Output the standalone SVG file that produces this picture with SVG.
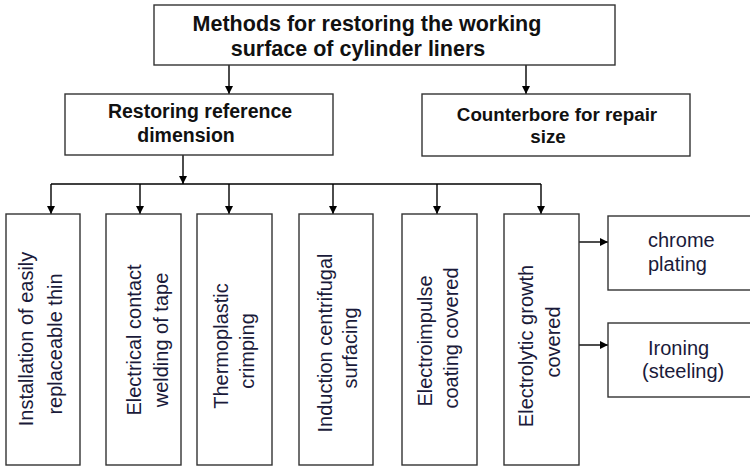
<svg xmlns="http://www.w3.org/2000/svg" width="750" height="467" viewBox="0 0 750 467">
<defs>
<style>
.box{fill:#fff;stroke:#333;stroke-width:1.4}
.ln{fill:none;stroke:#000;stroke-width:1.4}
.tb{font-family:"Liberation Sans",Arial,sans-serif;font-weight:bold;fill:#111;}
.tr{font-family:"Liberation Sans",Arial,sans-serif;font-size:20px;fill:#1a1a3a;}
</style>
<marker id="ah" viewBox="0 0 10 10" refX="10" refY="5" markerWidth="8" markerHeight="8" markerUnits="userSpaceOnUse" orient="auto">
<path d="M0,0 L10,5 L0,10 z" fill="#000"/>
</marker>
</defs>
<rect width="750" height="467" fill="#fff"/>

<g id="connectors">
<line class="ln" x1="229" y1="65" x2="229" y2="94" marker-end="url(#ah)"/>
<line class="ln" x1="526" y1="65" x2="526" y2="94" marker-end="url(#ah)"/>
<line class="ln" x1="183" y1="155" x2="183" y2="184" marker-end="url(#ah)"/>
<line class="ln" x1="51" y1="184" x2="541" y2="184"/>
<line class="ln" x1="51" y1="184" x2="51" y2="214" marker-end="url(#ah)"/>
<line class="ln" x1="140" y1="184" x2="140" y2="214" marker-end="url(#ah)"/>
<line class="ln" x1="229" y1="184" x2="229" y2="214" marker-end="url(#ah)"/>
<line class="ln" x1="333" y1="184" x2="333" y2="214" marker-end="url(#ah)"/>
<line class="ln" x1="437" y1="184" x2="437" y2="214" marker-end="url(#ah)"/>
<line class="ln" x1="541" y1="184" x2="541" y2="214" marker-end="url(#ah)"/>
<line class="ln" x1="579" y1="242" x2="608" y2="242" marker-end="url(#ah)"/>
<line class="ln" x1="579" y1="345" x2="608" y2="345" marker-end="url(#ah)"/>
</g>

<g id="root">
<rect class="box" x="154" y="5" width="461" height="60"/>
<text class="tb" font-size="21.5" text-anchor="middle" x="367" y="31">Methods for restoring the working</text>
<text class="tb" font-size="21.5" text-anchor="middle" x="358" y="56">surface of cylinder liners</text>
</g>

<g id="restoring">
<rect class="box" x="65" y="94" width="268" height="61"/>
<text class="tb" font-size="19.5" text-anchor="middle" x="200" y="118">Restoring reference</text>
<text class="tb" font-size="19.5" text-anchor="middle" x="186" y="142">dimension</text>
</g>

<g id="counterbore">
<rect class="box" x="422" y="94" width="268" height="62"/>
<text class="tb" font-size="18.8" text-anchor="middle" x="557" y="121">Counterbore for repair</text>
<text class="tb" font-size="18.8" text-anchor="middle" x="548" y="143">size</text>
</g>

<g id="installation">
<rect class="box" x="6" y="214" width="74" height="251"/>
<text class="tr" text-anchor="middle" transform="translate(33,339) rotate(-90)">Installation of easily</text>
<text class="tr" text-anchor="middle" transform="translate(62,344) rotate(-90)">replaceable thin</text>
</g>

<g id="electrical-contact">
<rect class="box" x="106" y="214" width="75" height="251"/>
<text class="tr" text-anchor="middle" transform="translate(141,340) rotate(-90)">Electrical contact</text>
<text class="tr" text-anchor="middle" transform="translate(168,340) rotate(-90)">welding of tape</text>
</g>

<g id="thermoplastic">
<rect class="box" x="197" y="214" width="75" height="251"/>
<text class="tr" text-anchor="middle" transform="translate(228,346) rotate(-90)">Thermoplastic</text>
<text class="tr" text-anchor="middle" transform="translate(254,351) rotate(-90)">crimping</text>
</g>

<g id="induction">
<rect class="box" x="299" y="214" width="74" height="251"/>
<text class="tr" text-anchor="middle" transform="translate(332,343) rotate(-90)">Induction centrifugal</text>
<text class="tr" text-anchor="middle" transform="translate(357,348) rotate(-90)">surfacing</text>
</g>

<g id="electroimpulse">
<rect class="box" x="402" y="214" width="75" height="251"/>
<text class="tr" text-anchor="middle" transform="translate(432,341) rotate(-90)">Electroimpulse</text>
<text class="tr" text-anchor="middle" transform="translate(458,338) rotate(-90)">coating covered</text>
</g>

<g id="electrolytic">
<rect class="box" x="504" y="214" width="75" height="251"/>
<text class="tr" text-anchor="middle" transform="translate(533,346) rotate(-90)">Electrolytic growth</text>
<text class="tr" text-anchor="middle" transform="translate(560,342) rotate(-90)">covered</text>
</g>

<g id="chrome">
<rect class="box" x="608" y="216" width="146" height="74"/>
<text class="tr" x="648" y="247">chrome</text>
<text class="tr" x="648" y="271">plating</text>
</g>

<g id="ironing">
<rect class="box" x="608" y="323" width="146" height="74"/>
<text class="tr" x="648" y="355">Ironing</text>
<text class="tr" x="642" y="378">(steeling)</text>
</g>
</svg>
